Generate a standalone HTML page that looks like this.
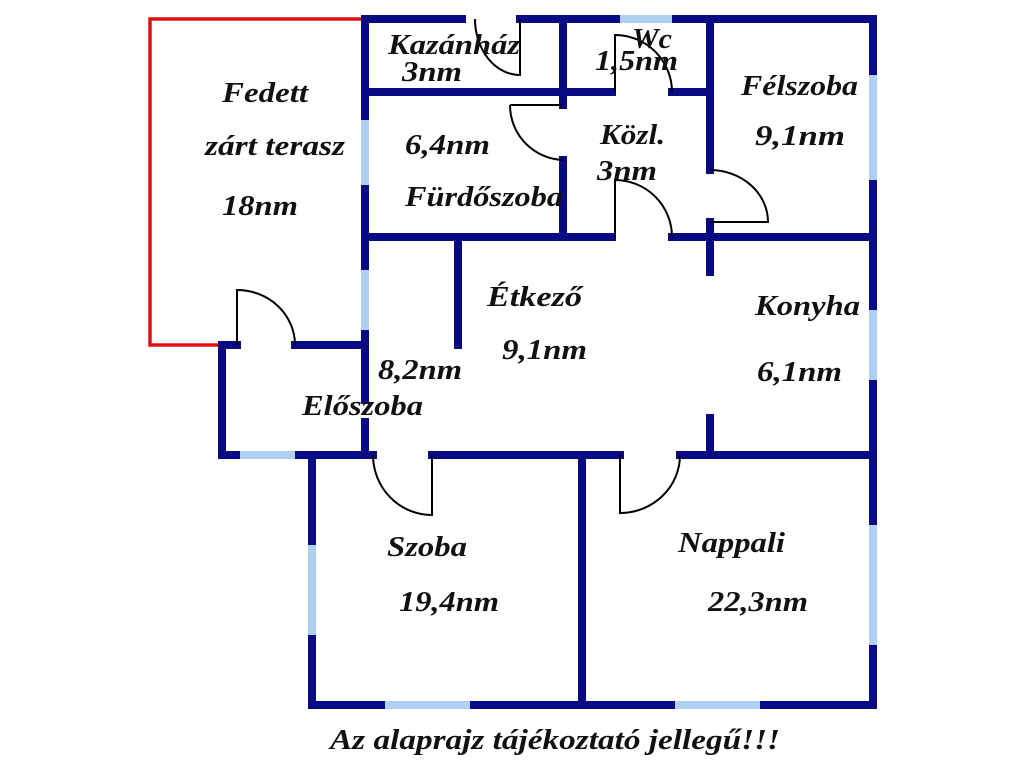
<!DOCTYPE html>
<html><head><meta charset="utf-8"><style>
html,body{margin:0;padding:0;background:#fff;}
svg{display:block}
text{font-family:"Liberation Serif",serif;font-weight:bold;font-style:italic;font-size:29px;fill:#111;}
</style></head><body>
<svg width="1024" height="768" viewBox="0 0 1024 768" xmlns="http://www.w3.org/2000/svg">
<rect width="1024" height="768" fill="#fff"/>
<polyline points="365,19 150,19 150,345 222,345" fill="none" stroke="#e01010" stroke-width="3.5"/>
<g stroke="#0a0a82" stroke-width="8" stroke-linecap="square" fill="none">
<line x1="365" y1="19" x2="462" y2="19"/><line x1="520" y1="19" x2="873" y2="19"/>
<line x1="873" y1="19" x2="873" y2="705"/>
<line x1="365" y1="19" x2="365" y2="400"/><line x1="365" y1="422" x2="365" y2="455"/>
<line x1="365" y1="92" x2="565" y2="92"/><line x1="565" y1="92" x2="612" y2="92"/><line x1="672" y1="92" x2="710" y2="92"/>
<line x1="563" y1="19" x2="563" y2="105"/><line x1="563" y1="160" x2="563" y2="237"/>
<line x1="710" y1="19" x2="710" y2="170"/><line x1="710" y1="222" x2="710" y2="272"/>
<line x1="365" y1="237" x2="612" y2="237"/><line x1="672" y1="237" x2="873" y2="237"/>
<line x1="458" y1="237" x2="458" y2="345"/>
<line x1="222" y1="345" x2="237" y2="345"/><line x1="295" y1="345" x2="365" y2="345"/>
<line x1="222" y1="345" x2="222" y2="455"/>
<line x1="222" y1="455" x2="373" y2="455"/><line x1="432" y1="455" x2="620" y2="455"/><line x1="680" y1="455" x2="873" y2="455"/>
<line x1="710" y1="418" x2="710" y2="455"/>
<line x1="312" y1="455" x2="312" y2="705"/><line x1="582" y1="455" x2="582" y2="705"/>
<line x1="312" y1="705" x2="873" y2="705"/>
</g>
<g stroke="#b0d0f2" stroke-width="8">
<line x1="620" y1="19" x2="672" y2="19"/>
<line x1="873" y1="75" x2="873" y2="180"/><line x1="873" y1="310" x2="873" y2="380"/><line x1="873" y1="525" x2="873" y2="645"/>
<line x1="365" y1="120" x2="365" y2="185"/><line x1="365" y1="270" x2="365" y2="330"/>
<line x1="240" y1="455" x2="295" y2="455"/>
<line x1="312" y1="545" x2="312" y2="635"/>
<line x1="385" y1="705" x2="470" y2="705"/><line x1="675" y1="705" x2="760" y2="705"/>
</g>
<g stroke="#000" stroke-width="2" fill="none">
<path d="M475,19 A45,56 0 0 0 520,75 L520,19"/>
<path d="M615,92 L615,35 A57,57 0 0 1 672,92"/>
<path d="M510,105 L563,105 M510,105 A55,55 0 0 0 563,160"/>
<path d="M710,170 A58,52 0 0 1 768,222 L710,222"/>
<path d="M615,237 L615,180 A57,57 0 0 1 672,237"/>
<path d="M237,345 L237,290 A58,55 0 0 1 295,345"/>
<path d="M373,455 A59,60 0 0 0 432,515 L432,455"/>
<path d="M680,455 A60,58 0 0 1 620,513 L620,455"/>
</g>
<text x="222" y="102" textLength="86" lengthAdjust="spacingAndGlyphs">Fedett</text>
<text x="205" y="155" textLength="140" lengthAdjust="spacingAndGlyphs">zárt terasz</text>
<text x="222" y="215" textLength="76" lengthAdjust="spacingAndGlyphs">18nm</text>
<text x="388" y="54" textLength="132" lengthAdjust="spacingAndGlyphs">Kazánház</text>
<text x="402" y="81" textLength="60" lengthAdjust="spacingAndGlyphs">3nm</text>
<text x="632" y="48" textLength="40" lengthAdjust="spacingAndGlyphs">Wc</text>
<text x="595" y="70" textLength="83" lengthAdjust="spacingAndGlyphs">1,5nm</text>
<text x="741" y="95" textLength="117" lengthAdjust="spacingAndGlyphs">Félszoba</text>
<text x="755" y="145" textLength="90" lengthAdjust="spacingAndGlyphs">9,1nm</text>
<text x="405" y="154" textLength="85" lengthAdjust="spacingAndGlyphs">6,4nm</text>
<text x="600" y="144" textLength="65" lengthAdjust="spacingAndGlyphs">Közl.</text>
<text x="597" y="180" textLength="60" lengthAdjust="spacingAndGlyphs">3nm</text>
<text x="405" y="206" textLength="158" lengthAdjust="spacingAndGlyphs">Fürdőszoba</text>
<text x="487" y="306" textLength="95" lengthAdjust="spacingAndGlyphs">Étkező</text>
<text x="502" y="359" textLength="85" lengthAdjust="spacingAndGlyphs">9,1nm</text>
<text x="755" y="315" textLength="105" lengthAdjust="spacingAndGlyphs">Konyha</text>
<text x="757" y="381" textLength="85" lengthAdjust="spacingAndGlyphs">6,1nm</text>
<text x="378" y="379" textLength="84" lengthAdjust="spacingAndGlyphs">8,2nm</text>
<text x="302" y="415" textLength="121" lengthAdjust="spacingAndGlyphs">Előszoba</text>
<text x="387" y="556" textLength="80" lengthAdjust="spacingAndGlyphs">Szoba</text>
<text x="399" y="611" textLength="100" lengthAdjust="spacingAndGlyphs">19,4nm</text>
<text x="678" y="552" textLength="107" lengthAdjust="spacingAndGlyphs">Nappali</text>
<text x="708" y="611" textLength="100" lengthAdjust="spacingAndGlyphs">22,3nm</text>
<text x="330" y="749" textLength="450" lengthAdjust="spacingAndGlyphs">Az alaprajz tájékoztató jellegű!!!</text>
</svg>
</body></html>
